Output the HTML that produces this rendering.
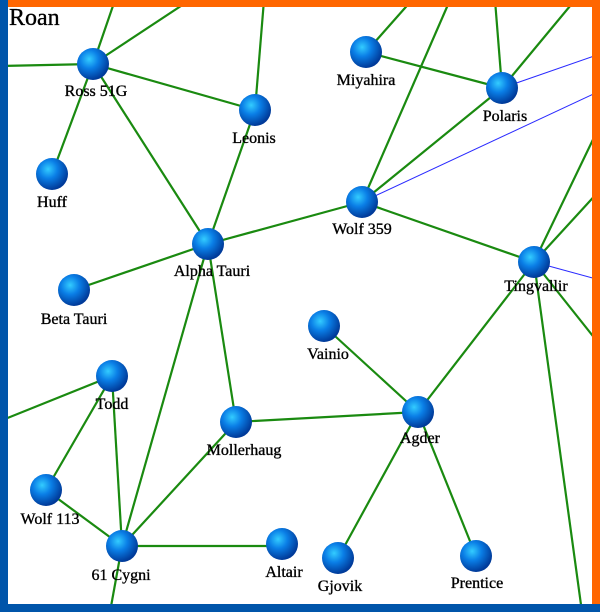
<!DOCTYPE html>
<html><head><style>
html,body{margin:0;padding:0;background:#fff}
svg{display:block}
text{font-family:"Liberation Serif",serif;font-size:16px;fill:#000;stroke:#000;stroke-width:0.35;text-anchor:middle}
</style></head><body>
<svg width="600" height="612" xmlns="http://www.w3.org/2000/svg">
<defs>
<radialGradient id="g" cx="0.38" cy="0.35" r="0.65">
<stop offset="0" stop-color="#33ccff"/>
<stop offset="0.45" stop-color="#0a7ee6"/>
<stop offset="1" stop-color="#003a99"/>
</radialGradient>
</defs>
<rect width="600" height="612" fill="#fff"/>
<g stroke="#1a8a10" stroke-width="2.2" fill="none">
<line x1="93" y1="64" x2="0" y2="66"/>
<line x1="93" y1="64" x2="115" y2="0"/>
<line x1="93" y1="64" x2="190" y2="0"/>
<line x1="93" y1="64" x2="255" y2="110"/>
<line x1="93" y1="64" x2="52" y2="174"/>
<line x1="93" y1="64" x2="208" y2="244"/>
<line x1="255" y1="110" x2="264" y2="0"/>
<line x1="255" y1="110" x2="208" y2="244"/>
<line x1="366" y1="52" x2="412" y2="0"/>
<line x1="366" y1="52" x2="502" y2="88"/>
<line x1="502" y1="88" x2="495" y2="0"/>
<line x1="502" y1="88" x2="575" y2="0"/>
<line x1="362" y1="202" x2="450" y2="0"/>
<line x1="362" y1="202" x2="502" y2="88"/>
<line x1="362" y1="202" x2="208" y2="244"/>
<line x1="362" y1="202" x2="534" y2="262"/>
<line x1="534" y1="262" x2="600" y2="125"/>
<line x1="534" y1="262" x2="600" y2="190"/>
<line x1="534" y1="262" x2="600" y2="345"/>
<line x1="534" y1="262" x2="582" y2="612"/>
<line x1="534" y1="262" x2="418" y2="412"/>
<line x1="208" y1="244" x2="74" y2="290"/>
<line x1="208" y1="244" x2="236" y2="422"/>
<line x1="208" y1="244" x2="122" y2="546"/>
<line x1="324" y1="326" x2="418" y2="412"/>
<line x1="112" y1="376" x2="0" y2="421"/>
<line x1="112" y1="376" x2="46" y2="490"/>
<line x1="112" y1="376" x2="122" y2="546"/>
<line x1="236" y1="422" x2="418" y2="412"/>
<line x1="236" y1="422" x2="122" y2="546"/>
<line x1="46" y1="490" x2="122" y2="546"/>
<line x1="122" y1="546" x2="282" y2="546"/>
<line x1="122" y1="546" x2="110" y2="612"/>
<line x1="418" y1="412" x2="338" y2="558"/>
<line x1="418" y1="412" x2="476" y2="556"/>
</g>
<g stroke="#2a2aff" stroke-width="1" fill="none">
<line x1="502" y1="88" x2="600" y2="54"/>
<line x1="362" y1="202" x2="600" y2="91"/>
<line x1="534" y1="262" x2="600" y2="280"/>
</g>
<g fill="url(#g)">
<circle cx="93" cy="64" r="16"/>
<circle cx="255" cy="110" r="16"/>
<circle cx="52" cy="174" r="16"/>
<circle cx="366" cy="52" r="16"/>
<circle cx="502" cy="88" r="16"/>
<circle cx="362" cy="202" r="16"/>
<circle cx="208" cy="244" r="16"/>
<circle cx="74" cy="290" r="16"/>
<circle cx="534" cy="262" r="16"/>
<circle cx="324" cy="326" r="16"/>
<circle cx="112" cy="376" r="16"/>
<circle cx="418" cy="412" r="16"/>
<circle cx="236" cy="422" r="16"/>
<circle cx="46" cy="490" r="16"/>
<circle cx="122" cy="546" r="16"/>
<circle cx="282" cy="544" r="16"/>
<circle cx="338" cy="558" r="16"/>
<circle cx="476" cy="556" r="16"/>
</g>
<text x="96" y="96">Ross 51G</text>
<text x="254" y="143">Leonis</text>
<text x="52" y="207">Huff</text>
<text x="366" y="85">Miyahira</text>
<text x="505" y="121">Polaris</text>
<text x="362" y="234">Wolf 359</text>
<text x="212" y="276">Alpha Tauri</text>
<text x="74" y="324">Beta Tauri</text>
<text x="536" y="291">Tingvallir</text>
<text x="328" y="359">Vainio</text>
<text x="112" y="409">Todd</text>
<text x="420" y="443">Agder</text>
<text x="244" y="455">Mollerhaug</text>
<text x="50" y="524">Wolf 113</text>
<text x="121" y="580">61 Cygni</text>
<text x="284" y="577">Altair</text>
<text x="340" y="591">Gjovik</text>
<text x="477" y="588">Prentice</text>
<text x="9" y="25" style="font-size:24px;text-anchor:start">Roan</text>
<rect x="0" y="0" width="600" height="7" fill="#ff6600"/>
<rect x="592" y="0" width="8" height="612" fill="#ff6600"/>
<rect x="0" y="0" width="8" height="612" fill="#0055aa"/>
<rect x="0" y="604" width="600" height="8" fill="#0055aa"/>
</svg>
</body></html>
